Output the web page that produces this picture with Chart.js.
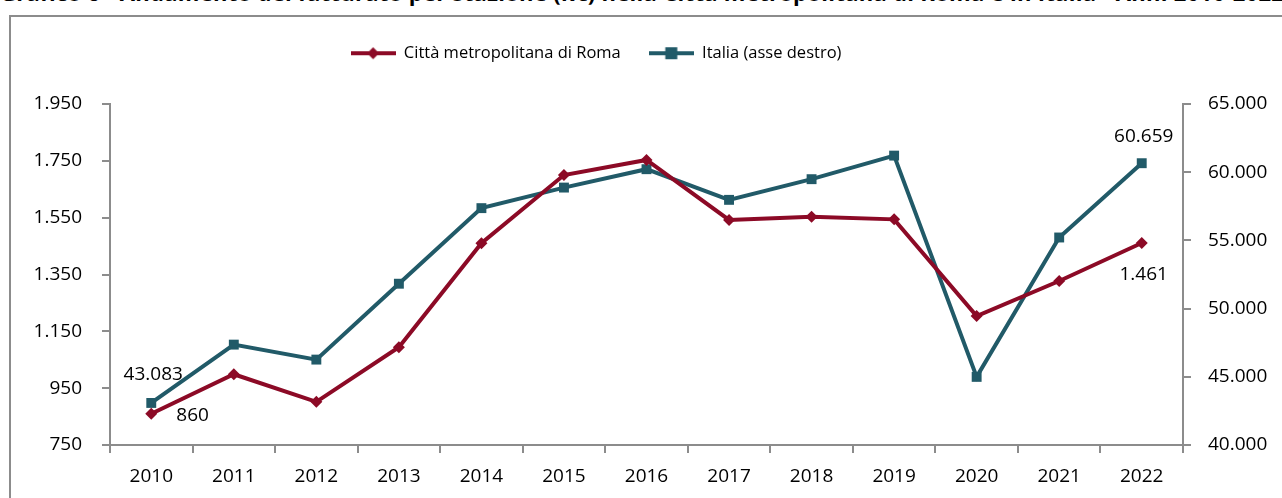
<!DOCTYPE html>
<html>
<head>
  <meta charset="utf-8">
  <title>Andamento Roma / Italia 2010-2022</title>
  <script src="https://cdn.jsdelivr.net/npm/chart.js"></script>
  <style>
    html, body { margin: 0; padding: 0; background: #fff; }
    body { width: 1282px; height: 498px; position: relative; overflow: hidden; font-family: "Open Sans", sans-serif; }
    #title { position: absolute; left: 0; top: -23px; white-space: nowrap; font-weight: bold; font-size: 22px; letter-spacing: 0.3px; color: #000; }
    #frame { position: absolute; left: 9px; top: 15px; width: 1290px; height: 500px; border: 2px solid #8c8c8c; box-sizing: border-box; }
    #chart { position: absolute; left: 0; top: 0; }
  </style>
</head>
<body>
  <div id="title">Grafico 6 - Andamento del fatturato per stazione (k€) nella Città metropolitana di Roma e in Italia - Anni 2010-2022</div>
  <div id="frame"></div>
  <canvas id="chart" width="1282" height="498"></canvas>
  <script>
    const years = ["2010", "2011", "2012", "2013", "2014", "2015", "2016", "2017", "2018", "2019", "2020", "2021", "2022"];
    const roma = [860, 999, 902, 1094, 1460, 1700, 1753, 1542, 1553, 1544, 1204, 1327, 1461];
    const italia = [43083, 47359, 46261, 51824, 57365, 58873, 60220, 57973, 59488, 61216, 44994, 55213, 60659];
    const leftTicks = [750, 950, 1150, 1350, 1550, 1750, 1950];
    const rightTicks = [40000, 45000, 50000, 55000, 60000, 65000];

    const RED = "#8c0a26";
    const TEAL = "#215a68";
    const AXIS = "#8c8c8c";
    const FONT = "'Open Sans', sans-serif";

    const fmt = v => v.toLocaleString("it-IT");

    // small line + marker image for the legend
    function legendIcon(color, shape) {
      const c = document.createElement("canvas");
      c.width = 45; c.height = 14;
      const g = c.getContext("2d");
      g.strokeStyle = color; g.fillStyle = color; g.lineWidth = 4;
      g.beginPath(); g.moveTo(0, 7); g.lineTo(45, 7); g.stroke();
      if (shape === "diamond") {
        g.beginPath(); g.moveTo(22.5, 1); g.lineTo(28.5, 7); g.lineTo(22.5, 13); g.lineTo(16.5, 7); g.closePath(); g.fill();
      } else {
        g.fillRect(16.5, 1, 12, 12);
      }
      return c;
    }

    // legend: fixed height, and shifted a bit left like the original
    const legendTweak = {
      id: "legendTweak",
      beforeInit(chart) {
        const lg = chart.legend;
        const fit = lg.fit;
        lg.fit = function () { fit.call(this); this.height = 87; };
      },
      afterLayout(chart) {
        chart.legend.right -= 90;
      }
    };

    // value labels at first and last point of each series
    const valueLabels = {
      id: "valueLabels",
      afterDatasetsDraw(chart) {
        const ctx = chart.ctx;
        const spots = [
          { ds: 1, i: 0, dx: 2, dy: -28, align: "center" },
          { ds: 0, i: 0, dx: 25, dy: 2, align: "left" },
          { ds: 1, i: years.length - 1, dx: 2, dy: -27, align: "center" },
          { ds: 0, i: years.length - 1, dx: 2, dy: 32, align: "center" }
        ];
        ctx.save();
        ctx.font = "19px " + FONT;
        ctx.fillStyle = "#000";
        ctx.textBaseline = "middle";
        spots.forEach(s => {
          const pt = chart.getDatasetMeta(s.ds).data[s.i];
          const v = chart.data.datasets[s.ds].data[s.i];
          ctx.textAlign = s.align;
          ctx.fillText(fmt(v), pt.x + s.dx, pt.y + s.dy);
        });
        ctx.restore();
      }
    };

    new Chart(document.getElementById("chart"), {
      type: "line",
      data: {
        labels: years,
        datasets: [
          {
            label: "Città metropolitana di Roma",
            data: roma,
            yAxisID: "y",
            borderColor: RED,
            backgroundColor: RED,
            borderWidth: 4,
            pointStyle: "rectRot",
            pointRadius: 6,
            pointBorderWidth: 0,
            tension: 0
          },
          {
            label: "Italia (asse destro)",
            data: italia,
            yAxisID: "y1",
            borderColor: TEAL,
            backgroundColor: TEAL,
            borderWidth: 4,
            pointStyle: "rect",
            pointRadius: 7,
            pointBorderWidth: 0,
            tension: 0
          }
        ]
      },
      options: {
        responsive: false,
        animation: false,
        layout: { padding: { top: 17, left: 0, right: 0, bottom: 0 } },
        plugins: {
          tooltip: { enabled: false },
          legend: {
            position: "top",
            labels: {
              color: "#000",
              font: { family: FONT, size: 16.5 },
              usePointStyle: true,
              pointStyleWidth: 45,
              padding: 28,
              generateLabels: chart => [
                { text: "Città metropolitana di Roma", pointStyle: legendIcon(RED, "diamond"), datasetIndex: 0, fontColor: "#000", lineWidth: 0 },
                { text: "Italia (asse destro)", pointStyle: legendIcon(TEAL, "square"), datasetIndex: 1, fontColor: "#000", lineWidth: 0 }
              ]
            }
          }
        },
        scales: {
          x: {
            offset: true,
            grid: { offset: true, drawOnChartArea: false, drawTicks: true, tickLength: 8, color: AXIS, lineWidth: 2 },
            border: { display: true, color: AXIS, width: 2 },
            ticks: { color: "#000", font: { family: FONT, size: 19 }, padding: 12, maxRotation: 0 },
            afterFit: s => { s.height = 53; }
          },
          y: {
            position: "left",
            min: 750,
            max: 1950,
            afterBuildTicks: s => { s.ticks = leftTicks.map(v => ({ value: v })); },
            grid: { drawOnChartArea: false, drawTicks: true, tickLength: 8, color: AXIS, lineWidth: 2 },
            border: { display: true, color: AXIS, width: 2 },
            ticks: { color: "#000", font: { family: FONT, size: 19 }, padding: 20, callback: v => fmt(v) },
            afterFit: s => { s.width = 110; }
          },
          y1: {
            position: "right",
            min: 40000,
            max: 65000,
            afterBuildTicks: s => { s.ticks = rightTicks.map(v => ({ value: v })); },
            grid: { drawOnChartArea: false, drawTicks: true, tickLength: 8, color: AXIS, lineWidth: 2 },
            border: { display: true, color: AXIS, width: 2 },
            ticks: { color: "#000", font: { family: FONT, size: 19 }, padding: 17, callback: v => fmt(v) },
            afterFit: s => { s.width = 99; }
          }
        }
      },
      plugins: [legendTweak, valueLabels]
    });
  </script>
</body>
</html>
